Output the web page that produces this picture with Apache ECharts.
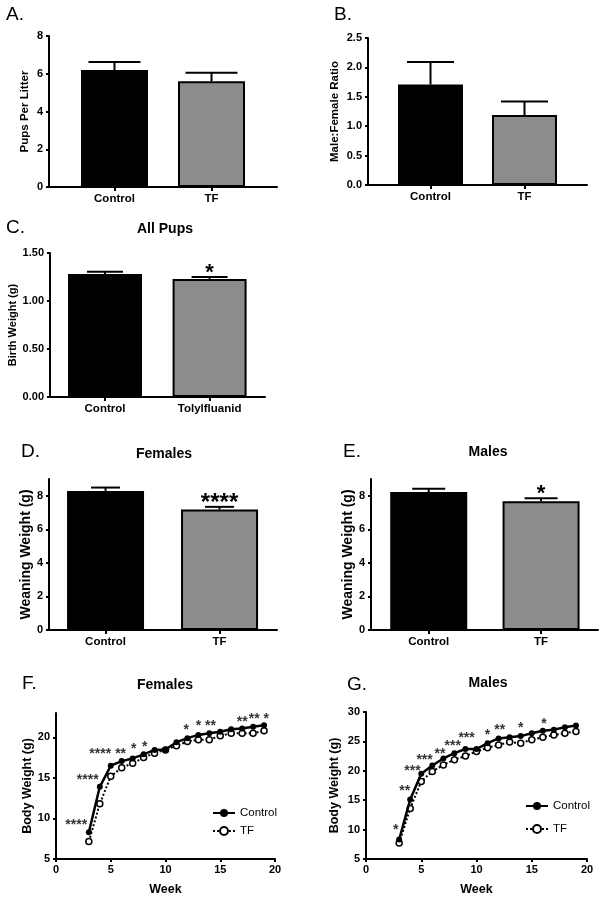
<!DOCTYPE html>
<html><head><meta charset="utf-8">
<script src="https://cdn.jsdelivr.net/npm/echarts@6/dist/echarts.min.js"></script>
<style>html,body{margin:0;padding:0;background:#fff}#c{width:607px;height:900px}</style>
</head><body><div id="c"></div>
<script>
// ---------------- DATA ----------------
const barCats = ['Control', 'TF'];
const birthCats = ['Control', 'Tolylfluanid'];

const pupsMean = [6.2, 5.6];
const pupsSem = [0.42, 0.45];
const pupsTicks = [0, 2, 4, 6, 8];

const ratioMean = [1.71, 1.19];
const ratioSem = [0.38, 0.23];
const ratioTicks = [0, 0.5, 1.0, 1.5, 2.0, 2.5];

const birthMean = [1.28, 1.23];
const birthSem = [0.025, 0.02];
const birthSig = ['', '*'];
const birthTicks = [0, 0.5, 1.0, 1.5];

const weanFMean = [8.29, 7.18];
const weanFSem = [0.2, 0.16];
const weanFSig = ['', '****'];
const weanMMean = [8.22, 7.67];
const weanMSem = [0.2, 0.19];
const weanMSig = ['', '*'];
const weanTicks = [0, 2, 4, 6, 8];

const weeks = [3, 4, 5, 6, 7, 8, 9, 10, 11, 12, 13, 14, 15, 16, 17, 18, 19];
const femCtrl = [8.3, 13.9, 16.5, 17.07, 17.4, 17.9, 18.45, 18.5, 19.4, 19.9, 20.3, 20.5, 20.7, 21.0, 21.1, 21.3, 21.5];
const femTF   = [7.16, 11.8, 15.2, 16.25, 16.8, 17.5, 18.05, 18.45, 18.95, 19.5, 19.7, 19.7, 20.2, 20.5, 20.5, 20.5, 20.8];
const maleCtrl = [8.3, 15.1, 19.5, 20.9, 22.1, 23.0, 23.7, 23.7, 24.7, 25.5, 25.7, 25.9, 26.4, 26.8, 27.0, 27.4, 27.7];
const maleTF   = [7.7, 13.6, 18.2, 19.9, 21.0, 21.9, 22.5, 23.3, 23.9, 24.4, 24.9, 24.7, 25.3, 25.7, 26.1, 26.4, 26.7];
const weekTicks = [0, 5, 10, 15, 20];
const femTicks = [5, 10, 15, 20];
const maleTicks = [5, 10, 15, 20, 25, 30];

// significance annotations [week, body weight, text]
const femStars = [[1.85, 9.5, '****'], [2.9, 15.1, '****'], [4.04, 18.3, '****'], [5.9, 18.3, '**'],
  [7.1, 18.9, '*'], [8.1, 19.2, '*'], [11.9, 21.2, '*'], [13.0, 21.7, '*'], [14.1, 21.7, '**'],
  [17.0, 22.2, '**'], [18.1, 22.65, '**'], [19.2, 22.65, '*']];
const maleStars = [[2.7, 10.4, '*'], [3.5, 17.0, '**'], [4.2, 20.4, '***'], [5.3, 22.3, '***'],
  [6.7, 23.4, '**'], [7.85, 24.7, '***'], [9.1, 26.0, '***'], [11.0, 26.5, '*'], [12.1, 27.4, '**'],
  [14.0, 27.7, '*'], [16.1, 28.5, '*']];

// ---------------- BUILD ----------------
const FONT = '"Liberation Sans", Arial, Helvetica, sans-serif';
const grids = [], xAxes = [], yAxes = [], series = [], graphics = [];
const axisLine = {show: true, onZero: false, lineStyle: {color: '#000', width: 2}};
const tickStyle = {color: '#000', width: 2};

function yAxisCfg(gi, p) {
  return {
    gridIndex: gi, type: 'value', min: p.ymin, max: p.ymax,
    name: p.yName, nameLocation: 'middle', nameGap: p.nameGap,
    nameTextStyle: {fontFamily: FONT, fontWeight: 'bold', fontSize: p.nameSize, color: '#000'},
    axisLine: axisLine,
    axisTick: {show: true, length: 3, customValues: p.yTicks, lineStyle: tickStyle},
    axisLabel: {customValues: p.yTicks, formatter: v => p.fmt(v), fontFamily: FONT, fontWeight: 'bold',
      fontSize: 11, color: '#000', margin: 6},
    splitLine: {show: false}
  };
}

function barPanel(p) {
  const gi = grids.length;
  grids.push({left: p.left, top: p.top, width: p.width, height: p.height});
  const idx = p.cats.map((c, i) => i);
  xAxes.push({
    gridIndex: gi, type: 'value', min: p.xmin, max: p.xmax,
    axisLine: axisLine,
    axisTick: {show: true, length: 4, customValues: idx, lineStyle: tickStyle},
    axisLabel: {customValues: idx, formatter: v => p.cats[Math.round(v)], fontFamily: FONT,
      fontWeight: 'bold', fontSize: 11.5, color: '#000', margin: 6},
    splitLine: {show: false}
  });
  yAxes.push(yAxisCfg(gi, p));
  series.push({
    type: 'bar', xAxisIndex: gi, yAxisIndex: gi, barWidth: p.barWidth, z: 2, silent: true,
    data: p.means.map((m, i) => ({value: [i, m],
      itemStyle: {color: i === 0 ? '#000' : '#8c8c8c', borderColor: '#000', borderWidth: 2}}))
  });
  series.push({
    type: 'custom', xAxisIndex: gi, yAxisIndex: gi, z: 3, silent: true,
    data: p.means.map((m, i) => [i, m, m + p.sems[i]]),
    renderItem: (params, api) => {
      const x = api.value(0);
      const lo = api.coord([x, api.value(1)]);
      const hi = api.coord([x, api.value(2)]);
      const hw = p.capWidth / 2;
      const ch = [
        {type: 'line', shape: {x1: lo[0], y1: lo[1], x2: hi[0], y2: hi[1]}, style: {stroke: '#000', lineWidth: 2}},
        {type: 'line', shape: {x1: hi[0] - hw, y1: hi[1], x2: hi[0] + hw, y2: hi[1]}, style: {stroke: '#000', lineWidth: 2}}
      ];
      const s = p.sig ? p.sig[params.dataIndex] : '';
      if (s) ch.push({type: 'text', x: hi[0], y: hi[1] - p.sigOffset,
        style: {text: s, align: 'center', verticalAlign: 'middle', fontFamily: FONT, fontWeight: 'bold',
          fontSize: p.sigSize, fill: '#000'}});
      return {type: 'group', children: ch};
    }
  });
}

function linePanel(p) {
  const gi = grids.length;
  grids.push({left: p.left, top: p.top, width: p.width, height: p.height});
  xAxes.push({
    gridIndex: gi, type: 'value', min: 0, max: 20,
    name: 'Week', nameLocation: 'middle', nameGap: 24,
    nameTextStyle: {fontFamily: FONT, fontWeight: 'bold', fontSize: 12.5, color: '#000'},
    axisLine: axisLine,
    axisTick: {show: true, length: 3, customValues: weekTicks, lineStyle: tickStyle},
    axisLabel: {customValues: weekTicks, fontFamily: FONT, fontWeight: 'bold', fontSize: 11, color: '#000', margin: 5},
    splitLine: {show: false}
  });
  yAxes.push(yAxisCfg(gi, p));
  series.push({
    type: 'line', name: 'TF', xAxisIndex: gi, yAxisIndex: gi, z: 3,
    data: weeks.map((w, i) => [w, p.tf[i]]),
    symbol: 'circle', symbolSize: 6,
    lineStyle: {color: '#000', width: 2, type: 'dotted'},
    itemStyle: {color: '#fff', borderColor: '#000', borderWidth: 1.5}
  });
  series.push({
    type: 'line', name: 'Control', xAxisIndex: gi, yAxisIndex: gi, z: 4,
    data: weeks.map((w, i) => [w, p.ctrl[i]]),
    symbol: 'circle', symbolSize: 6,
    lineStyle: {color: '#000', width: 2.5},
    itemStyle: {color: '#000'}
  });
  series.push({
    type: 'scatter', xAxisIndex: gi, yAxisIndex: gi, symbolSize: 0, silent: true, z: 5,
    data: p.stars.map(s => ({value: [s[0], s[1]], txt: s[2]})),
    label: {show: true, position: 'inside', formatter: q => q.data.txt, fontFamily: FONT, fontWeight: 'bold',
      fontSize: p.starSize, color: '#000', offset: [0, 3]}
  });
}

const intFmt = v => String(Math.round(v));

barPanel({left: 49, top: 36, width: 228, height: 151, xmin: -0.675, xmax: 1.675, ymin: 0, ymax: 8,
  cats: barCats, means: pupsMean, sems: pupsSem, yTicks: pupsTicks, fmt: intFmt,
  yName: 'Pups Per Litter', nameGap: 18, nameSize: 11.5, barWidth: 67, capWidth: 52});
barPanel({left: 368, top: 38, width: 219, height: 147, xmin: -0.665, xmax: 1.665, ymin: 0, ymax: 2.5,
  cats: barCats, means: ratioMean, sems: ratioSem, yTicks: ratioTicks, fmt: v => v.toFixed(1),
  yName: 'Male:Female Ratio', nameGap: 27, nameSize: 11.5, barWidth: 65, capWidth: 47});
barPanel({left: 50, top: 253, width: 215, height: 144, xmin: -0.526, xmax: 1.53, ymin: 0, ymax: 1.5,
  cats: birthCats, means: birthMean, sems: birthSem, yTicks: birthTicks, fmt: v => v.toFixed(2),
  yName: 'Birth Weight (g)', nameGap: 31, nameSize: 11, barWidth: 74, capWidth: 36,
  sig: birthSig, sigOffset: 4, sigSize: 22});
barPanel({left: 49, top: 479, width: 228, height: 151, xmin: -0.496, xmax: 1.504, ymin: 0, ymax: 9,
  cats: barCats, means: weanFMean, sems: weanFSem, yTicks: weanTicks, fmt: intFmt,
  yName: 'Weaning Weight (g)', nameGap: 14, nameSize: 14, barWidth: 77, capWidth: 29,
  sig: weanFSig, sigOffset: 3, sigSize: 24});
barPanel({left: 371, top: 479, width: 227, height: 151, xmin: -0.514, xmax: 1.507, ymin: 0, ymax: 9,
  cats: barCats, means: weanMMean, sems: weanMSem, yTicks: weanTicks, fmt: intFmt,
  yName: 'Weaning Weight (g)', nameGap: 16, nameSize: 14, barWidth: 77, capWidth: 33,
  sig: weanMSig, sigOffset: 4, sigSize: 22});
linePanel({left: 56, top: 713, width: 219, height: 146, ymin: 5, ymax: 23, yTicks: femTicks, fmt: intFmt,
  yName: 'Body Weight (g)', nameGap: 20, nameSize: 12.5, ctrl: femCtrl, tf: femTF, stars: femStars, starSize: 14});
linePanel({left: 366, top: 712, width: 221, height: 147, ymin: 5, ymax: 30, yTicks: maleTicks, fmt: intFmt,
  yName: 'Body Weight (g)', nameGap: 25, nameSize: 12.5, ctrl: maleCtrl, tf: maleTF, stars: maleStars, starSize: 14});

// panel letters and titles
const letters = [['A.', 6, 15], ['B.', 334, 15], ['C.', 6, 228], ['D.', 21, 452], ['E.', 343, 452], ['F.', 22, 684], ['G.', 347, 685]];
letters.forEach(l => graphics.push({type: 'text', x: l[1], y: l[2],
  style: {text: l[0], fontFamily: FONT, fontSize: 19, fill: '#000', verticalAlign: 'middle'}}));
const titles = [['All Pups', 165, 229], ['Females', 164, 454], ['Males', 488, 452], ['Females', 165, 685], ['Males', 488, 683]];
titles.forEach(t => graphics.push({type: 'text', x: t[1], y: t[2],
  style: {text: t[0], fontFamily: FONT, fontWeight: 'bold', fontSize: 14, fill: '#000', align: 'center', verticalAlign: 'middle'}}));

const legendBase = {data: ['Control', 'TF'], orient: 'vertical', itemWidth: 22, itemHeight: 10, selectedMode: false,
  textStyle: {fontFamily: FONT, fontSize: 11.5, color: '#000'}};

const chart = echarts.init(document.getElementById('c'));
chart.setOption({
  animation: false,
  backgroundColor: '#fff',
  grid: grids, xAxis: xAxes, yAxis: yAxes, series: series,
  legend: [Object.assign({left: 207, top: 802, itemGap: 6}, legendBase),
           Object.assign({left: 520, top: 795, itemGap: 11}, legendBase)],
  graphic: graphics
});
</script></body></html>
